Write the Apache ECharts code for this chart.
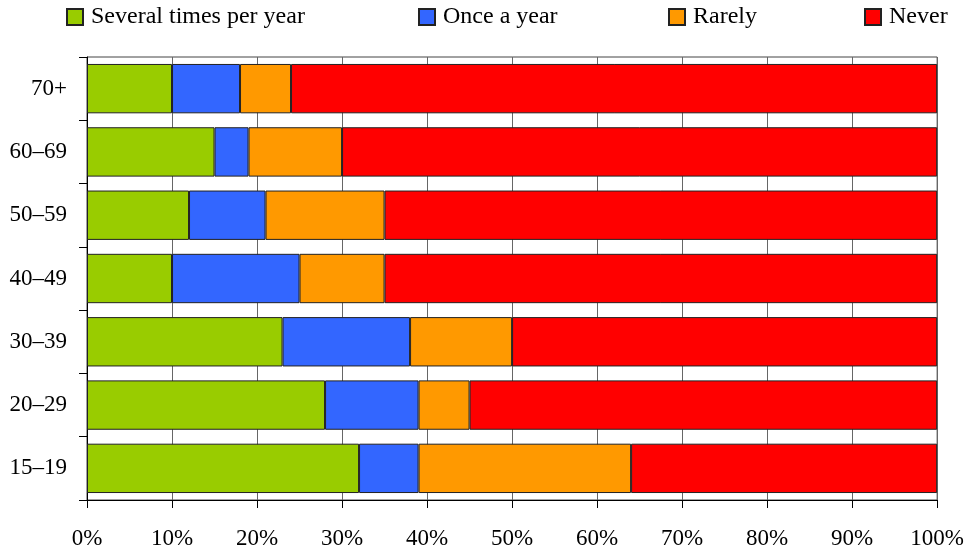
<!DOCTYPE html>
<html>
<head>
<meta charset="utf-8">
<script src="https://cdn.jsdelivr.net/npm/echarts@6/dist/echarts.min.js"></script>
<style>
  html, body { margin: 0; padding: 0; background: #fff; }
  #chart { width: 967px; height: 553px; }
</style>
</head>
<body>
<div id="chart"></div>
<script>
// age groups, bottom to top (category axis starts at the bottom)
const ageGroups = ['15–19', '20–29', '30–39', '40–49', '50–59', '60–69', '70+']
const severalTimes = [32, 28, 23, 10, 12, 15, 10]
const onceAYear = [7, 11, 15, 15, 9, 4, 8]
const rarely = [25, 6, 12, 10, 14, 11, 6]
const never = [36, 55, 50, 65, 65, 70, 76]

const seriesNames = ['Several times per year', 'Once a year', 'Rarely', 'Never']
const seriesColors = ['#99cc00', '#3366ff', '#ff9900', '#ff0000']
const legendLeft = [66, 418, 668, 864]

const font = '"Liberation Serif", "Times New Roman", serif'

const chart = echarts.init(document.getElementById('chart'))

const legends = seriesNames.map((name, i) => ({
  data: [name],
  left: legendLeft[i],
  top: 5,
  padding: 0,
  itemWidth: 16,
  itemHeight: 16,
  icon: 'rect',
  selectedMode: false,
  textStyle: { fontFamily: font, fontSize: 24, color: '#000', padding: [0, 0, 0, 3] }
}))

const values = [severalTimes, onceAYear, rarely, never]

const option = {
  animation: false,
  legend: legends,
  grid: {
    left: 87,
    right: 27,
    top: 57,
    bottom: 53,
    show: true,
    borderColor: '#444',
    borderWidth: 1
  },
  xAxis: {
    type: 'value',
    min: 0,
    max: 100,
    interval: 10,
    axisLine: { show: true, lineStyle: { color: '#000' } },
    axisTick: { show: true, length: 8, lineStyle: { color: '#000' } },
    splitLine: { show: true, lineStyle: { color: '#666', width: 1 } },
    axisLabel: {
      formatter: '{value}%',
      fontFamily: font,
      fontSize: 23,
      color: '#000',
      margin: 27
    }
  },
  yAxis: {
    type: 'category',
    data: ageGroups,
    axisLine: { show: true, lineStyle: { color: '#000' } },
    axisTick: { show: true, length: 8, lineStyle: { color: '#000' } },
    axisLabel: { fontFamily: font, fontSize: 23, color: '#000', margin: 20 }
  },
  series: seriesNames.map((name, i) => ({
    name,
    type: 'bar',
    stack: 'total',
    barCategoryGap: '22%',
    data: values[i],
    itemStyle: {
      color: seriesColors[i],
      borderColor: '#222',
      borderWidth: 1
    }
  }))
}

chart.setOption(option)
</script>
</body>
</html>
